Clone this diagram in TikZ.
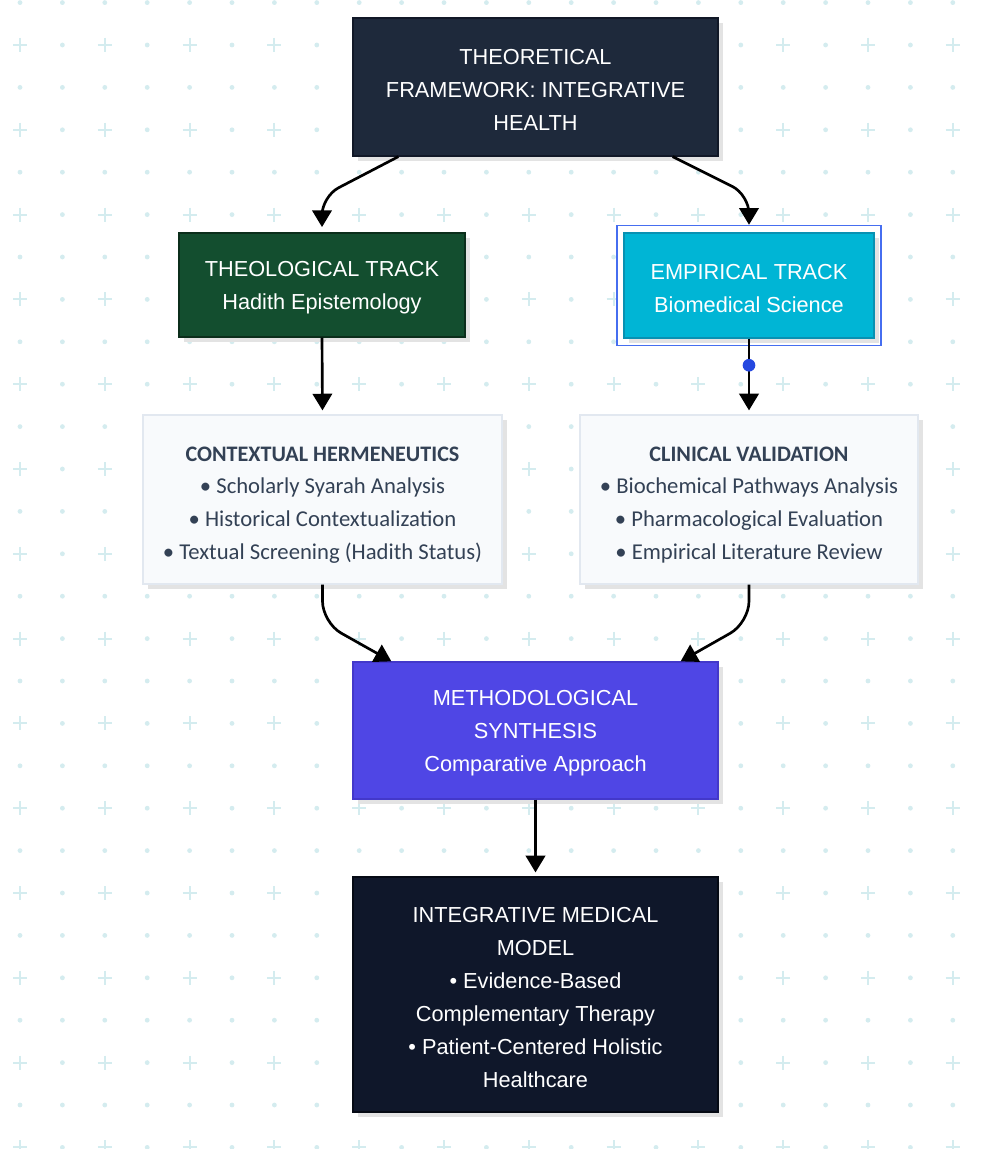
\documentclass[tikz,border=0pt]{standalone}
\usepackage{fontspec}
\setmainfont{Liberation Sans}
\newfontfamily\carl{Carlito}
\usetikzlibrary{arrows.meta,calc,shadows}
\definecolor{patc}{HTML}{D4ECEF}
\definecolor{topfill}{HTML}{1E293B}
\definecolor{topline}{HTML}{111827}
\definecolor{theofill}{HTML}{134E2F}
\definecolor{theoline}{HTML}{0B2E1B}
\definecolor{empfill}{HTML}{00B5D5}
\definecolor{empline}{HTML}{0891B2}
\definecolor{hiline}{HTML}{466EF0}
\definecolor{dotc}{HTML}{2548E0}
\definecolor{lightfill}{HTML}{F8FAFC}
\definecolor{lightline}{HTML}{E2E8F0}
\definecolor{lighttext}{HTML}{334155}
\definecolor{synfill}{HTML}{4F46E5}
\definecolor{synline}{HTML}{4338CA}
\definecolor{botfill}{HTML}{0F172A}
\definecolor{botline}{HTML}{050A14}
\newcommand\dks{\rule{0pt}{15.8pt}}
\newcommand\lts{\rule{0pt}{18.8pt}}
\begin{document}
\begin{tikzpicture}[x=0.75pt,y=-0.75pt,
  box/.style={rectangle, draw, line width=0.9pt, align=center, inner sep=0pt,
    general shadow={fill=black!11, shadow xshift=4pt, shadow yshift=-4pt}},
  darkbox/.style={box, text=white, font=\fontsize{16.3}{24.75}\selectfont},
  lightbox/.style={box, fill=lightfill, draw=lightline, text=lighttext,
    font=\carl\fontsize{17}{24.5}\selectfont},
  conn/.style={line width=2pt, draw=black, -{Triangle[length=12.5pt,width=14.5pt]}},
  patcross/.style={draw=patc, line width=1.6pt},
  patdot/.style={fill=patc}
]
\useasboundingbox (0,0) rectangle (985,1149);
\fill[white] (0,0) rectangle (985,1149);
% background pattern
\foreach \i in {0,...,22}{
  \foreach \j in {-1,...,26}{
    \pgfmathtruncatemacro\cc{mod(\i,2)+abs(mod(\j,2))}
    \ifnum\cc=0
      \draw[patcross] ({20+42.4*\i-7},{45+42.4*\j}) -- ({20+42.4*\i+7},{45+42.4*\j})
                      ({20+42.4*\i},{45+42.4*\j-7}) -- ({20+42.4*\i},{45+42.4*\j+7});
    \else
      \fill[patdot] ({20+42.4*\i},{45+42.4*\j}) circle (1.8pt);
    \fi
  }
}
% nodes
\node[darkbox, fill=topfill, draw=topline, minimum width=273.75pt, minimum height=103.5pt]
  (top) at (535.5,87) {\dks THEORETICAL\\FRAMEWORK: INTEGRATIVE\\HEALTH};
\node[darkbox, fill=theofill, draw=theoline, minimum width=214.5pt, minimum height=78pt]
  (theo) at (322,285) {\dks THEOLOGICAL TRACK\\Hadith Epistemology};
\node[rectangle, draw=hiline, line width=1.1pt, fill=white, minimum width=198pt, minimum height=90pt]
  (empout) at (749,285.5) {};
\node[darkbox, fill=empfill, draw=empline, minimum width=187.5pt, minimum height=78.75pt]
  (emp) at (749,285.5) {\dks EMPIRICAL TRACK\\Biomedical Science};
\node[lightbox, minimum width=269.25pt, minimum height=126.75pt]
  (ctx) at (322.5,499.5) {\lts{\fontsize{16.6}{24.5}\selectfont\bfseries CONTEXTUAL HERMENEUTICS}\\• Scholarly Syarah Analysis\\• Historical Contextualization\\• Textual Screening (Hadith Status)};
\node[lightbox, minimum width=253.5pt, minimum height=126.75pt]
  (clin) at (749,499.5) {\lts{\fontsize{16.6}{24.5}\selectfont\bfseries CLINICAL VALIDATION}\\• Biochemical Pathways Analysis\\• Pharmacological Evaluation\\• Empirical Literature Review};
\node[darkbox, fill=synfill, draw=synline, minimum width=273.75pt, minimum height=102.75pt]
  (syn) at (535.5,730.5) {\dks METHODOLOGICAL\\SYNTHESIS\\Comparative Approach};
\node[darkbox, fill=botfill, draw=botline, minimum width=273.75pt, minimum height=176.25pt]
  (bot) at (535.5,994.5) {\dks INTEGRATIVE MEDICAL\\MODEL\\• Evidence-Based\\Complementary Therapy\\• Patient-Centered Holistic\\Healthcare};
% connectors
\draw[conn, rounded corners=14pt, shorten >=4pt]
  ($(top.south west)+(46,0)$) -- ($(theo.north)+(0,-36)$) -- (theo.north);
\draw[conn, rounded corners=14pt]
  ($(top.south east)+(-46,0)$) -- ($(empout.north)+(0,-30)$) -- (empout.north);
\draw[conn, shorten >=3pt] (theo.south) -- (ctx.north);
\draw[conn, shorten >=3pt] (emp.south) -- (clin.north);
\node[circle, fill=dotc, inner sep=0pt, minimum size=9.5pt] (dot) at ($(empout.south)+(0,19)$) {};
\draw[conn, rounded corners=16pt]
  (ctx.south) -- ($(ctx.south)+(0,38)$) -- ($(syn.north west)+(39,0)$);
\draw[conn, rounded corners=16pt]
  (clin.south) -- ($(clin.south)+(0,38)$) -- ($(syn.north east)+(-38,0)$);
\draw[conn, shorten >=3pt] (syn.south) -- (bot.north);
\end{tikzpicture}
\end{document}
